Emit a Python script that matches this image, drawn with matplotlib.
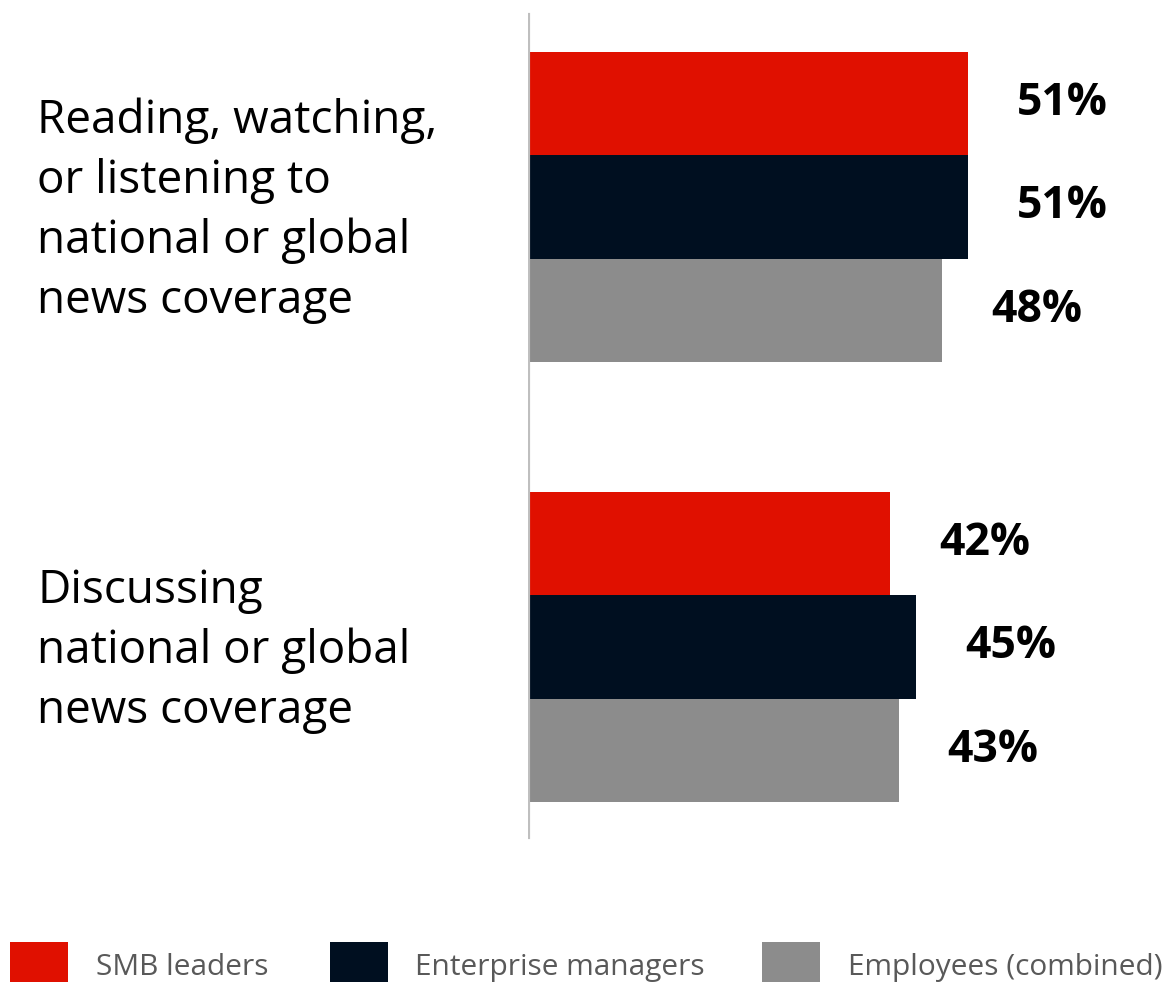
import matplotlib
matplotlib.use("Agg")
import matplotlib.pyplot as plt
from matplotlib.patches import Rectangle

# Data
categories = [
    "Reading, watching,\nor listening to\nnational or global\nnews coverage",
    "Discussing\nnational or global\nnews coverage",
]
series_names = ["SMB leaders", "Enterprise managers", "Employees (combined)"]
smb_leaders = [51, 42]
enterprise_managers = [51, 45]
employees_combined = [48, 43]
series_values = [smb_leaders, enterprise_managers, employees_combined]
colors = ["#E01000", "#000F20", "#8C8C8C"]

FONT = "Open Sans"
W, H, DPI = 1168, 982, 100
fig = plt.figure(figsize=(W / DPI, H / DPI), dpi=DPI)
fig.patch.set_facecolor("white")

# Axes region in pixel terms
ax_left_px = 528
ax = fig.add_axes([ax_left_px / W, 0, 1 - ax_left_px / W, 1])
px_per_unit = 8.63
ax.set_xlim(0, (W - ax_left_px) / px_per_unit)
bar_px = 103.5
ax.set_ylim(H / bar_px, 0)
ax.axis("off")

group_gap = 1.25
n_series = len(series_values)
for g in range(len(categories)):
    for s in range(n_series):
        y = 1.0 + g * (n_series + group_gap) + s
        v = series_values[s][g]
        ax.barh(y, v, height=1.0, color=colors[s], edgecolor="none")
        ax.text(v + 10.9, y, f"{v}%", ha="center", va="center",
                fontsize=32, fontweight="bold", family=FONT, color="black")
    yc = 1.0 + g * (n_series + group_gap) + (n_series - 1) / 2
    fig.text(37 / W, 1 - (yc * bar_px + 4) / H, categories[g], ha="left", va="center",
             fontsize=33, family=FONT, color="black", linespacing=1.39)

# Vertical baseline
ax.axvline(0, ymin=1 - 837 / H, ymax=1 - 15 / H, color="#BFBFBF", lw=3)

# Legend along the bottom
legend_x = [(10, 96), (330, 415), (762, 848)]
for (sx, tx), name, c in zip(legend_x, series_names, colors):
    fig.patches.append(Rectangle((sx / W, 0), 58 / W, 40 / H, transform=fig.transFigure,
                                 color=c, lw=0))
    fig.text(tx / W, 1 - 975 / H, name, ha="left", va="baseline",
             fontsize=21.5, family=FONT, color="#595959")

fig.savefig("out.png", dpi=DPI)
